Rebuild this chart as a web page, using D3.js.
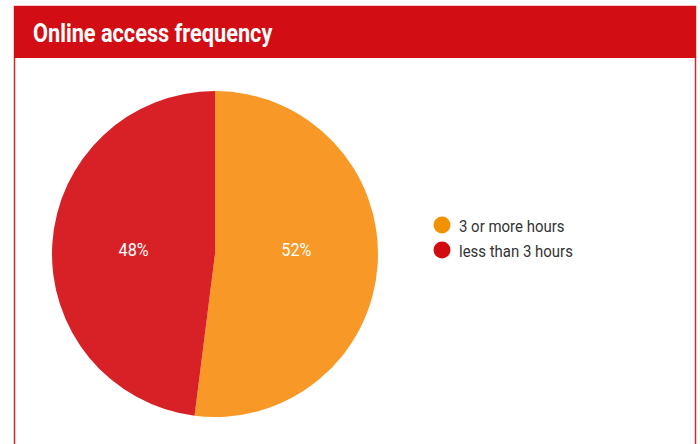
<!DOCTYPE html>
<html>
<head>
<meta charset="utf-8">
<script src="https://cdn.jsdelivr.net/npm/d3@7"></script>
<style>
  body { margin: 0; background: #fff; }
  svg text { font-family: "Roboto", sans-serif; }
</style>
</head>
<body>
<div id="chart"></div>
<script>
var width = 700,
    height = 444;

var categories = ["3 or more hours", "less than 3 hours"];
var values = [52, 48];
var colors = ["#F89826", "#D82027"];
var legendColors = ["#F39200", "#D20A11"];
var title = "Online access frequency";

var svg = d3.select("#chart").append("svg")
  .attr("width", width)
  .attr("height", height);

// squeeze Roboto to look like the condensed face of the original
function condense(sel, k) {
  sel.each(function() {
    var len = this.getComputedTextLength();
    d3.select(this)
      .attr("textLength", len * k)
      .attr("lengthAdjust", "spacingAndGlyphs");
  });
}

// panel border + header
svg.append("rect")
  .attr("x", 14.5).attr("y", 6.5)
  .attr("width", 681).attr("height", 460)
  .attr("fill", "none")
  .attr("stroke", "#D9262C")
  .attr("stroke-width", 1.5);

svg.append("rect")
  .attr("x", 14).attr("y", 6)
  .attr("width", 682).attr("height", 52)
  .attr("fill", "#D20D14");

svg.append("text")
  .attr("x", 33).attr("y", 42)
  .attr("fill", "#fff")
  .style("font-size", "26px")
  .style("font-weight", "bold")
  .text(title)
  .call(condense, 0.835);

// pie
var cx = 215, cy = 254, r = 163;

var pie = d3.pie().sort(null).value(function(d) { return d; });
var arc = d3.arc().innerRadius(0).outerRadius(r);

var g = svg.append("g").attr("transform", "translate(" + cx + "," + cy + ")");

var slices = g.selectAll("g.slice")
  .data(pie(values))
  .enter().append("g").attr("class", "slice");

slices.append("path")
  .attr("d", arc)
  .attr("fill", function(d, i) { return colors[i]; });

slices.append("text")
  .attr("x", function(d) { return arc.centroid(d)[0]; })
  .attr("y", 2)
  .attr("text-anchor", "middle")
  .attr("fill", "#fff")
  .style("font-size", "18px")
  .text(function(d) { return d.data + "%"; })
  .call(condense, 0.9);

// legend
var legend = svg.append("g").attr("transform", "translate(442,225)");

var items = legend.selectAll("g")
  .data(categories)
  .enter().append("g")
  .attr("transform", function(d, i) { return "translate(0," + (i * 25) + ")"; });

items.append("circle")
  .attr("r", 8.5)
  .attr("fill", function(d, i) { return legendColors[i]; });

items.append("text")
  .attr("x", 17)
  .attr("y", 7)
  .attr("fill", "#333")
  .style("font-size", "17px")
  .text(function(d) { return d; })
  .call(condense, 0.88);
</script>
</body>
</html>
